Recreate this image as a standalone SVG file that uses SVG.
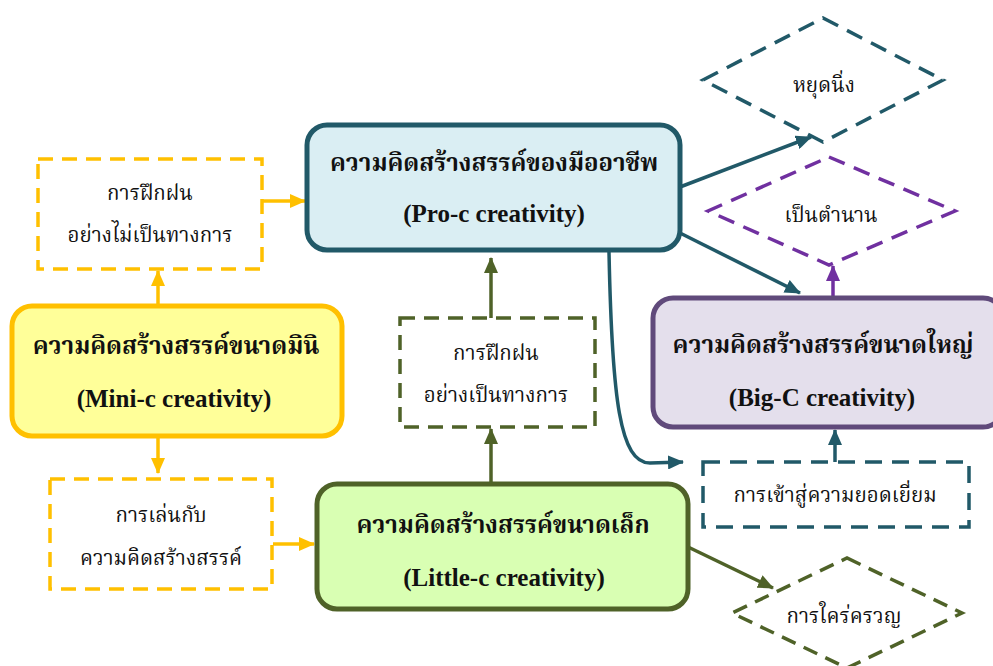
<svg xmlns="http://www.w3.org/2000/svg" width="993" height="666" viewBox="0 0 993 666">
<style>
.th{font-family:"Liberation Serif","Noto Serif Thai","Noto Sans Thai","DejaVu Serif",serif;fill:#111;text-anchor:middle}
.b{font-weight:bold;font-size:24px}
.en{font-family:"Liberation Serif",serif;font-weight:bold;font-size:25px;fill:#111;text-anchor:middle}
.r{font-size:20.5px}
.yl{stroke:#FFC000;stroke-width:3.5;fill:none}
.ol{stroke:#4F6228;stroke-width:3.5;fill:none}
.tl{stroke:#215968;stroke-width:3.5;fill:none}
.pl{stroke:#7030A0;stroke-width:3.5;fill:none}
.dy{stroke:#FFC000;stroke-width:3.5;fill:#fff;stroke-dasharray:15 9}
.do{stroke:#4F6228;stroke-width:3.5;fill:#fff;stroke-dasharray:15 9}
.dt{stroke:#215968;stroke-width:3.5;fill:#fff;stroke-dasharray:17 10}
.dp{stroke:#7030A0;stroke-width:3.5;fill:#fff;stroke-dasharray:17 10}
</style>
<defs>
<marker id="ay" markerUnits="userSpaceOnUse" markerWidth="16" markerHeight="14" refX="15" refY="7" orient="auto"><path d="M0,0 L16,7 L0,14 z" fill="#FFC000"/></marker>
<marker id="ao" markerUnits="userSpaceOnUse" markerWidth="16" markerHeight="14" refX="15" refY="7" orient="auto"><path d="M0,0 L16,7 L0,14 z" fill="#4F6228"/></marker>
<marker id="at" markerUnits="userSpaceOnUse" markerWidth="16" markerHeight="14" refX="15" refY="7" orient="auto"><path d="M0,0 L16,7 L0,14 z" fill="#215968"/></marker>
<marker id="ap" markerUnits="userSpaceOnUse" markerWidth="16" markerHeight="14" refX="15" refY="7" orient="auto"><path d="M0,0 L16,7 L0,14 z" fill="#7030A0"/></marker>
</defs>

<g id="connectors">
<line class="yl" x1="263" y1="201" x2="305" y2="201" marker-end="url(#ay)"/>
<line class="yl" x1="158" y1="305" x2="158" y2="271" marker-end="url(#ay)"/>
<line class="yl" x1="158" y1="437" x2="158" y2="473" marker-end="url(#ay)"/>
<line class="yl" x1="273" y1="544" x2="314" y2="544" marker-end="url(#ay)"/>
<line class="ol" x1="491" y1="483" x2="491" y2="429" marker-end="url(#ao)"/>
<line class="ol" x1="491" y1="318" x2="491" y2="258" marker-end="url(#ao)"/>
<line class="ol" x1="686" y1="546" x2="773" y2="588" marker-end="url(#ao)"/>
<line class="tl" x1="680" y1="187" x2="811" y2="137" marker-end="url(#at)"/>
<line class="tl" x1="680" y1="233" x2="800" y2="293" marker-end="url(#at)"/>
<path class="tl" d="M609,252 C612,400 620,463 650,463 L683,462" marker-end="url(#at)"/>
<line class="tl" x1="835" y1="462" x2="835" y2="430" marker-end="url(#at)"/>
<line class="pl" x1="833" y1="297" x2="833" y2="266" marker-end="url(#ap)"/>
</g>

<g id="node-informal">
<rect class="dy" x="38" y="159" width="224" height="110"/>
<text class="th r" x="150" y="200">การฝึกฝน</text>
<text class="th r" x="150" y="242">อย่างไม่เป็นทางการ</text>
</g>

<g id="node-play">
<rect class="dy" x="50" y="479" width="222" height="110"/>
<text class="th r" x="161" y="522">การเล่นกับ</text>
<text class="th r" x="161" y="565">ความคิดสร้างสรรค์</text>
</g>

<g id="node-formal">
<rect class="do" x="400" y="318" width="195" height="109"/>
<text class="th r" x="496" y="360">การฝึกฝน</text>
<text class="th r" x="496" y="402">อย่างเป็นทางการ</text>
</g>

<g id="node-excellence">
<rect class="dt" x="703" y="462" width="266" height="65"/>
<text class="th r" x="835" y="502">การเข้าสู่ความยอดเยี่ยม</text>
</g>

<g id="node-stagnation">
<polygon class="dt" points="823,18 943,80 823,142 703,80"/>
<text class="th r" x="824" y="92">หยุดนิ่ง</text>
</g>

<g id="node-legend">
<polygon class="dp" points="829,157 955,211 829,265 708,211"/>
<text class="th r" x="831" y="222">เป็นตำนาน</text>
</g>

<g id="node-reflection">
<polygon class="do" points="847,558 962,613 847,668 732,613"/>
<text class="th r" x="844" y="623">การใคร่ครวญ</text>
</g>

<g id="node-pro">
<rect x="307" y="125" width="373" height="125" rx="20" fill="#DAEEF3" stroke="#215968" stroke-width="5"/>
<text class="th b" x="494" y="171">ความคิดสร้างสรรค์ของมืออาชีพ</text>
<text class="en" x="494" y="222">(Pro-c creativity)</text>
</g>

<g id="node-mini">
<rect x="12" y="306" width="330" height="130" rx="20" fill="#FFFF99" stroke="#FFC000" stroke-width="5"/>
<text class="th b" x="176" y="354">ความคิดสร้างสรรค์ขนาดมินิ</text>
<text class="en" x="174" y="407">(Mini-c creativity)</text>
</g>

<g id="node-little">
<rect x="317" y="484" width="371" height="125" rx="20" fill="#D9FFB3" stroke="#4F6228" stroke-width="5"/>
<text class="th b" x="503" y="533">ความคิดสร้างสรรค์ขนาดเล็ก</text>
<text class="en" x="504" y="586">(Little-c creativity)</text>
</g>

<g id="node-big">
<rect x="653" y="298" width="350" height="129" rx="20" fill="#E4DFEC" stroke="#604A7B" stroke-width="5"/>
<text class="th b" x="823" y="353">ความคิดสร้างสรรค์ขนาดใหญ่</text>
<text class="en" x="822" y="406">(Big-C creativity)</text>
</g>
</svg>
